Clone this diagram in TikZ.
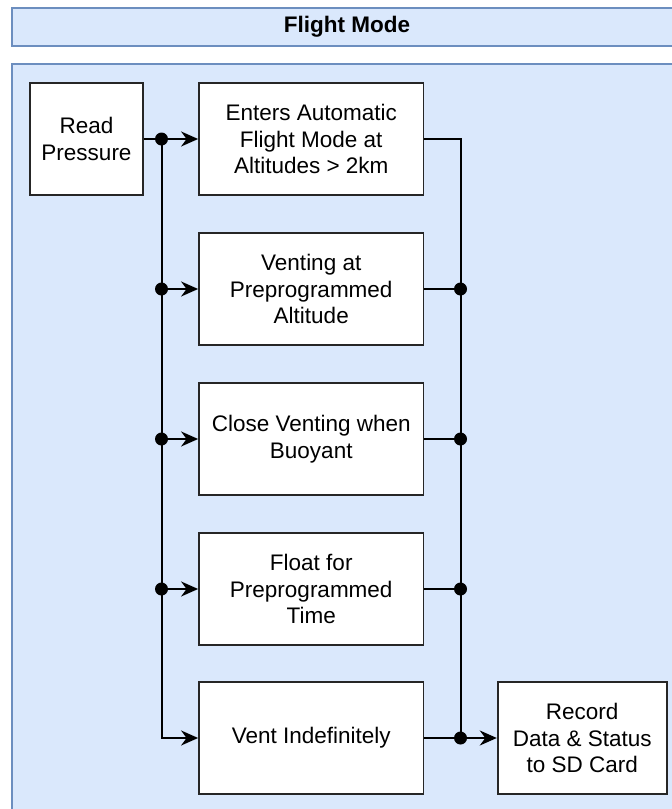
\documentclass[tikz,border=0pt]{standalone}
\usepackage{fontspec}
\setmainfont{Liberation Sans}
\usetikzlibrary{arrows.meta}
\definecolor{bgfill}{HTML}{DAE8FC}
\definecolor{bgline}{HTML}{6C8EBF}
\begin{document}
\begin{tikzpicture}[x=1pt,y=-1pt,
  panel/.style={draw=bgline, fill=bgfill, line width=2pt},
  box/.style={draw=black!85, fill=white, line width=1.8pt, align=center, inner sep=0pt,
    font=\fontsize{22.5}{26.5}\selectfont},
  wide/.style={box, minimum width=224.5pt, minimum height=112pt},
  conn/.style={line width=2pt, draw=black},
  arr/.style={conn, -{Stealth[length=17pt,width=15pt,inset=5.5pt]}},
  jdot/.style={circle, fill=black, inner sep=0pt, minimum size=13pt}]
\useasboundingbox (0,0) rectangle (672,809);
% panels
\draw[panel] (12,8) rectangle (685,45.7);
\node[font=\bfseries\fontsize{22.5}{26}\selectfont] (title) at (347,27) {Flight Mode};
\draw[panel] (12,64) rectangle (685,830);
% boxes
\node[box, minimum width=113pt, minimum height=112pt] (rp) at (86.5,139) {Read\\Pressure};
\node[wide] (b1) at (311.25,139) {Enters Automatic\\Flight Mode at\\Altitudes > 2km};
\node[wide] (b2) at (311.25,289) {Venting at\\Preprogrammed\\Altitude};
\node[wide] (b3) at (311.25,439) {Close Venting when\\Buoyant};
\node[wide] (b4) at (311.25,589) {Float for\\Preprogrammed\\Time};
\node[wide] (b5) at (311.25,738) {Vent Indefinitely};
\node[box, minimum width=169pt, minimum height=112pt] (rec) at (582.2,738) {Record\\Data \& Status\\to SD Card};
% junction points
\coordinate (jl1) at (161.5,139);
\coordinate (jl2) at (161.5,289);
\coordinate (jl3) at (161.5,439);
\coordinate (jl4) at (161.5,589);
\coordinate (jr2) at (460.5,289);
\coordinate (jr3) at (460.5,439);
\coordinate (jr4) at (460.5,589);
\coordinate (jr5) at (460.5,738);
% left bus
\draw[conn] (rp.east) -- (jl1);
\draw[arr] (jl1) -- (b1.west);
\draw[arr] (jl1) |- (b5.west);
\draw[arr] (jl2) -- (b2.west);
\draw[arr] (jl3) -- (b3.west);
\draw[arr] (jl4) -- (b4.west);
% right bus
\draw[conn] (b1.east) -| (jr5);
\draw[conn] (b2.east) -- (jr2);
\draw[conn] (b3.east) -- (jr3);
\draw[conn] (b4.east) -- (jr4);
\draw[conn] (b5.east) -- (jr5);
\draw[arr] (jr5) -- (rec.west);
% dots
\node[jdot] (d1) at (jl1) {};
\node[jdot] (d2) at (jl2) {};
\node[jdot] (d3) at (jl3) {};
\node[jdot] (d4) at (jl4) {};
\node[jdot] (d5) at (jr2) {};
\node[jdot] (d6) at (jr3) {};
\node[jdot] (d7) at (jr4) {};
\node[jdot] (d8) at (jr5) {};
\end{tikzpicture}
\end{document}
